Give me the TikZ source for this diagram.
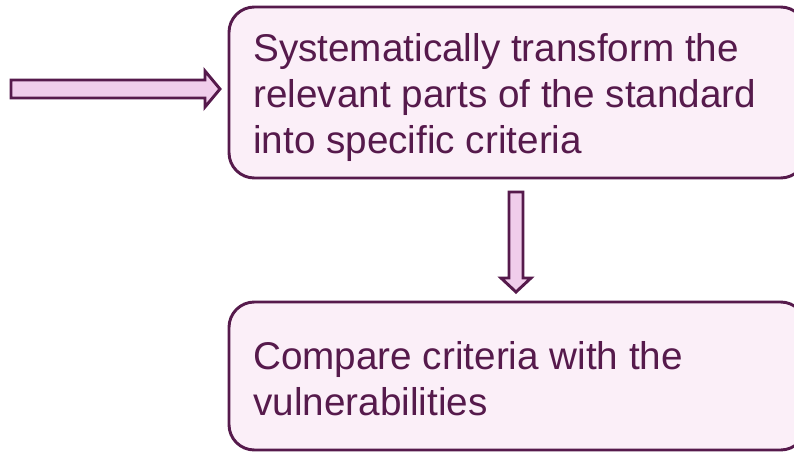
\documentclass[tikz,border=0pt]{standalone}
\usepackage{fontspec}
\setmainfont{Liberation Sans}
\definecolor{edgec}{HTML}{561A4C}
\definecolor{boxfill}{HTML}{FBEFF8}
\definecolor{arrfill}{HTML}{F0CDEB}
\definecolor{txtc}{HTML}{561A4C}
\begin{document}
\begin{tikzpicture}[x=0.75pt,y=-0.75pt,
  stepbox/.style={draw=edgec,fill=boxfill,line width=2.2pt,rounded corners=19pt},
  boxtext/.style={anchor=north west,align=left,text=txtc,font=\fontsize{29}{34.5}\selectfont,inner sep=0pt},
  blockarrow/.style={draw=edgec,fill=arrfill,line width=2.2pt,line join=miter}]
\useasboundingbox (0,0) rectangle (794,451);
\draw[stepbox] (229,7) rectangle (806,178);
\node[boxtext] (t1) at (253,33) {Systematically transform the\\relevant parts of the standard\\into specific criteria};
\draw[stepbox] (229,302) rectangle (806,450);
\node[boxtext] (t2) at (253,341) {Compare criteria with the\\vulnerabilities};
\draw[blockarrow] (11,80) -- (205,80) -- (205,71) -- (220,89) -- (205,107) -- (205,98) -- (11,98) -- cycle;
\draw[blockarrow] (509,192) -- (523,192) -- (523,278) -- (531,278) -- (516,292) -- (501,278) -- (509,278) -- cycle;
\end{tikzpicture}
\end{document}
